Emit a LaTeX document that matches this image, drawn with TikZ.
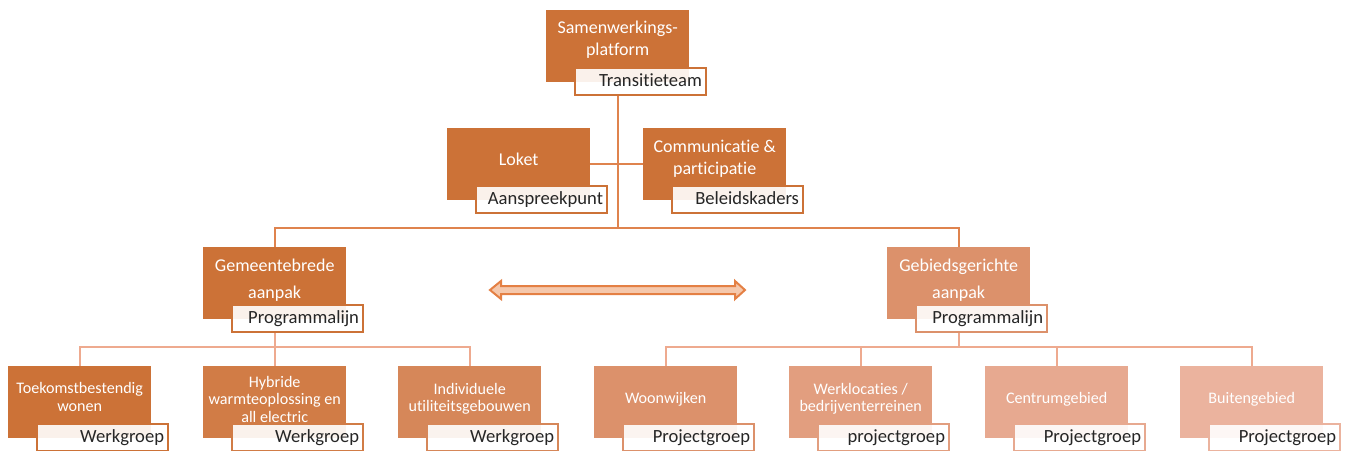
\documentclass[tikz,border=0pt]{standalone}
\usepackage{fontspec}
\setmainfont{Carlito}[Ligatures=NoCommon]
\definecolor{cA}{RGB}{204,114,55}
\definecolor{cB}{RGB}{209,124,70}
\definecolor{cC}{RGB}{214,135,89}
\definecolor{cD}{RGB}{220,145,107}
\definecolor{cE}{RGB}{226,158,127}
\definecolor{cF}{RGB}{231,169,144}
\definecolor{cG}{RGB}{235,179,158}
\definecolor{lineA}{RGB}{223,131,78}
\definecolor{lineB}{RGB}{238,170,143}
\definecolor{arrFill}{RGB}{245,200,172}
\definecolor{arrDraw}{RGB}{228,128,68}
\definecolor{labText}{RGB}{38,38,38}
\newcommand\bigtxt{\fontsize{18}{22}\selectfont}
\newcommand\midtxt{\fontsize{18}{27}\selectfont}
\newcommand\smtxt{\fontsize{16.1}{17.5}\selectfont}
\newcommand\labtxt{\fontsize{18.6}{22}\selectfont}
\newcommand\orgunit[8]{%
  \node[orgbox, fill=#4] (#1) at (#2,#3) {};
  \node[orglab, draw=#4] (#1L) at ([xshift=28pt,yshift=15pt]#1.south west) {#6};
  \node[orgtext, font=#7] (#1T) at ([yshift=-#8pt]#1.north) {#5};
}
\begin{document}
\begin{tikzpicture}[x=1pt,y=-1pt,
  orgbox/.style={minimum width=143pt, minimum height=72pt, inner sep=0pt, anchor=north west},
  orglab/.style={line width=2pt, fill=white, fill opacity=0.9, text opacity=1,
    minimum height=27pt, inner xsep=4pt, inner ysep=0pt, text width=123pt,
    align=right, anchor=north west, text=labText, font=\labtxt,
    text height=12.5pt, text depth=4pt},
  orgtext/.style={text=white, align=center, inner sep=0pt},
  connA/.style={draw=lineA, line width=2.2pt},
  connB/.style={draw=lineB, line width=2.2pt},
  dblarrow/.style={draw=arrDraw, fill=arrFill, line width=2pt, line join=miter}]
\useasboundingbox (0,0) rectangle (1346,450);

% connectors
\coordinate (busTop) at (0,228);
\coordinate (busLow) at (0,347);

% top level
\orgunit{top}{546}{10}{cA}{Samenwerkings-\\platform}{Transitieteam}{\bigtxt}{30}
\orgunit{loket}{447}{128}{cA}{Loket}{Aanspreekpunt}{\bigtxt}{31}
\orgunit{comm}{643}{128}{cA}{Communicatie \&\\participatie}{Beleidskaders}{\bigtxt}{31}
\orgunit{gem}{203}{247}{cA}{Gemeentebrede\\aanpak}{Programmalijn}{\midtxt}{33}
\orgunit{geb}{887}{247}{cD}{Gebiedsgerichte\\aanpak}{Programmalijn}{\midtxt}{33}

% bottom row
\orgunit{ba}{8}{366}{cA}{Toekomstbestendig\\wonen}{Werkgroep}{\smtxt}{31}
\orgunit{bb}{203}{366}{cB}{Hybride\\warmteoplossing en\\all electric}{Werkgroep}{\smtxt}{33}
\orgunit{bc}{398}{366}{cC}{Individuele\\utiliteitsgebouwen}{Werkgroep}{\smtxt}{33}
\orgunit{bd}{594}{366}{cD}{Woonwijken}{Projectgroep}{\smtxt}{33}
\orgunit{be}{789}{366}{cE}{Werklocaties /\\bedrijventerreinen}{projectgroep}{\smtxt}{33}
\orgunit{bf}{985}{366}{cF}{Centrumgebied}{Projectgroep}{\smtxt}{33}
\orgunit{bg}{1180}{366}{cG}{Buitengebied}{Projectgroep}{\smtxt}{33}

% upper connectors
\draw[connA] (top.south |- topL.south) -- (top.south |- busTop);
\draw[connA] (loket.east) -- (comm.west);
\draw[connA] (gem.north) |- (top.south |- busTop) -| (geb.north);

% lower connectors
\draw[connB] (gem.south |- gemL.south) -- (gem.south |- busLow);
\draw[connB] (ba.north) |- (gem.south |- busLow) -| (bc.north);
\draw[connB] (bb.north) -- (bb.north |- busLow);
\draw[connB] (geb.south |- gebL.south) -- (geb.south |- busLow);
\draw[connB] (bd.north) |- (geb.south |- busLow) -| (bg.north);
\draw[connB] (be.north) -- (be.north |- busLow);
\draw[connB] (bf.north) -- (bf.north |- busLow);

% double arrow
\draw[dblarrow] (490,290) -- (501,281) -- (501,286) -- (735,286) -- (735,281)
  -- (745,290) -- (735,299) -- (735,294) -- (501,294) -- (501,299) -- cycle;
\end{tikzpicture}
\end{document}
